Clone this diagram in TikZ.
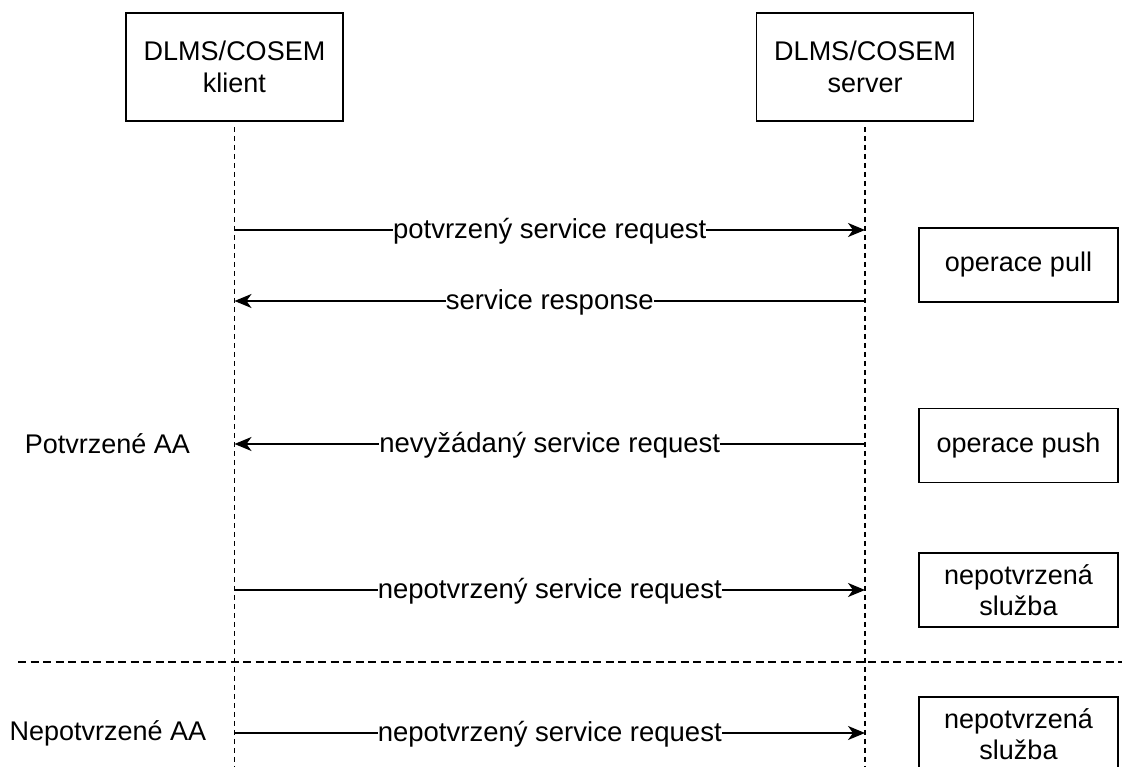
\documentclass[tikz,border=0pt]{standalone}
\usepackage{fontspec}
\setmainfont{Liberation Sans}
\usetikzlibrary{arrows.meta}

\tikzset{
  lifebox/.style={draw, line width=1.7pt, minimum width=217pt, minimum height=108pt,
    align=center, inner sep=0pt},
  notebox/.style={draw, line width=1.7pt, minimum width=199pt, minimum height=74pt,
    align=center, inner sep=0pt},
  lifeline/.style={line width=1.7pt, dash pattern=on 5pt off 4pt},
  separator/.style={line width=1.7pt, dash pattern=on 8pt off 4.5pt},
  msg/.style={line width=1.6pt, -{Stealth[length=17pt, width=14pt, inset=5pt]}},
  msglabel/.style={fill=white, inner xsep=0pt, inner ysep=2pt, midway, yshift=-1pt,
    font=\fontsize{27.5}{32}\selectfont},
  sidelabel/.style={inner sep=0pt},
}

\begin{document}
\begin{tikzpicture}[x=1pt, y=-1pt, font=\fontsize{27}{31.5}\selectfont]
  \useasboundingbox (0,0) rectangle (1122,767);

  % participants
  \node[lifebox] (client) at (234.5,67) {DLMS/COSEM\\klient};
  \node[lifebox] (server) at (865,67) {DLMS/COSEM\\server};

  % lifelines
  \coordinate (clientend) at (client.south |- 0,767);
  \coordinate (serverend) at (server.south |- 0,767);
  \draw[lifeline] (client.south) ++(0,5) -- (clientend);
  \draw[lifeline] (server.south) ++(0,5) -- (serverend);

  % message anchor points on the lifelines
  \foreach \n/\y in {1/230, 2/301, 3/444, 4/590, 5/733} {
    \coordinate (c\n) at (client.south |- 0,\y);
    \coordinate (s\n) at (server.south |- 0,\y);
  }

  % messages
  \draw[msg] (c1) -- node[msglabel] {potvrzený service request} (s1);
  \draw[msg] (s2) -- node[msglabel] {service response} (c2);
  \draw[msg] (s3) -- node[msglabel] {nevyžádaný service request} (c3);
  \draw[msg] (c4) -- node[msglabel] {nepotvrzený service request} (s4);
  \draw[msg] (c5) -- node[msglabel] {nepotvrzený service request} (s5);

  % boundary between confirmed and unconfirmed association
  \coordinate (sepl) at (18,662);
  \coordinate (sepr) at (1122,662);
  \draw[separator] (sepl) -- (sepr);

  % side annotations
  \node[notebox] (pull) at (1018.5,265) {operace pull};
  \node[notebox] (push) at (1018.5,445.5) {operace push};
  \node[notebox] (unc1) at (1018.5,590) {nepotvrzená\\služba};
  \node[notebox] (unc2) at (1018.5,734) {nepotvrzená\\služba};

  \node[sidelabel] (confaa) at (107.5,444) {Potvrzené AA};
  \node[sidelabel] (uncaa) at (108,733) {Nepotvrzené AA};
\end{tikzpicture}
\end{document}
